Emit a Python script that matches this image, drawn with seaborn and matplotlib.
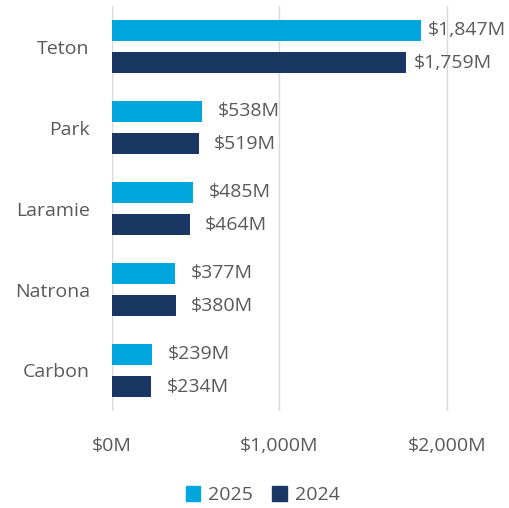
import matplotlib.pyplot as plt
import pandas as pd
import seaborn as sns
from matplotlib.patches import Patch

counties = ["Teton", "Park", "Laramie", "Natrona", "Carbon"]
values_2025 = [1847, 538, 485, 377, 239]
values_2024 = [1759, 519, 464, 380, 234]
years = ["2025", "2024"]
colors = ["#00A6DE", "#1A3663"]
xticks = [0, 1000, 2000]


def main() -> None:
    df = pd.DataFrame({
        "county": counties * 2,
        "year": [years[0]] * len(counties) + [years[1]] * len(counties),
        "value": values_2025 + values_2024,
    })

    sns.set_style("white")
    plt.rcParams["font.family"] = ["Open Sans", "DejaVu Sans"]
    text_color = "#595959"

    fig = plt.figure(figsize=(5.1, 5.08), dpi=100)
    ax = fig.add_axes([0.2196, 0.191, 0.722, 0.797])

    sns.barplot(
        data=df, y="county", x="value", hue="year", orient="h",
        palette=colors, hue_order=years, order=counties,
        width=0.8, gap=0.36, saturation=1, linewidth=0,
        legend=False, ax=ax,
    )

    # value labels; the longest bars get a tighter offset so the text fits
    for container in ax.containers:
        for patch, v in zip(container, container.datavalues):
            pad = 5 if v > 1500 else 11
            ax.annotate(
                f"${v:,.0f}M", xy=(patch.get_width(), patch.get_y() + patch.get_height() / 2),
                xytext=(pad, 0), textcoords="offset points",
                ha="left", va="center", fontsize=14, color=text_color,
            )

    ax.set_xlim(0, 2200)
    ax.set_ylim(4.5, -0.5)
    ax.set_xticks(xticks)
    ax.set_xticklabels([f"${v:,}M" for v in xticks], fontsize=14, color=text_color)
    ax.tick_params(axis="x", pad=19, length=0)
    ax.tick_params(axis="y", pad=16, length=0, labelsize=14, labelcolor=text_color)
    ax.set_xlabel("")
    ax.set_ylabel("")
    ax.grid(axis="x", color="#D9D9D9", linewidth=1)
    ax.set_axisbelow(True)
    sns.despine(ax=ax, left=True, bottom=True)

    handles = [Patch(color=c, label=y) for c, y in zip(colors, years)]
    fig.legend(
        handles=handles, loc="center", bbox_to_anchor=(0.515, 0.025), ncol=2,
        frameon=False, fontsize=14, labelcolor=text_color,
        handlelength=0.75, handleheight=0.75, handletextpad=0.4, columnspacing=1.0,
    )

    fig.savefig("out.png", dpi=100)
    plt.close(fig)


if __name__ == "__main__":
    main()
